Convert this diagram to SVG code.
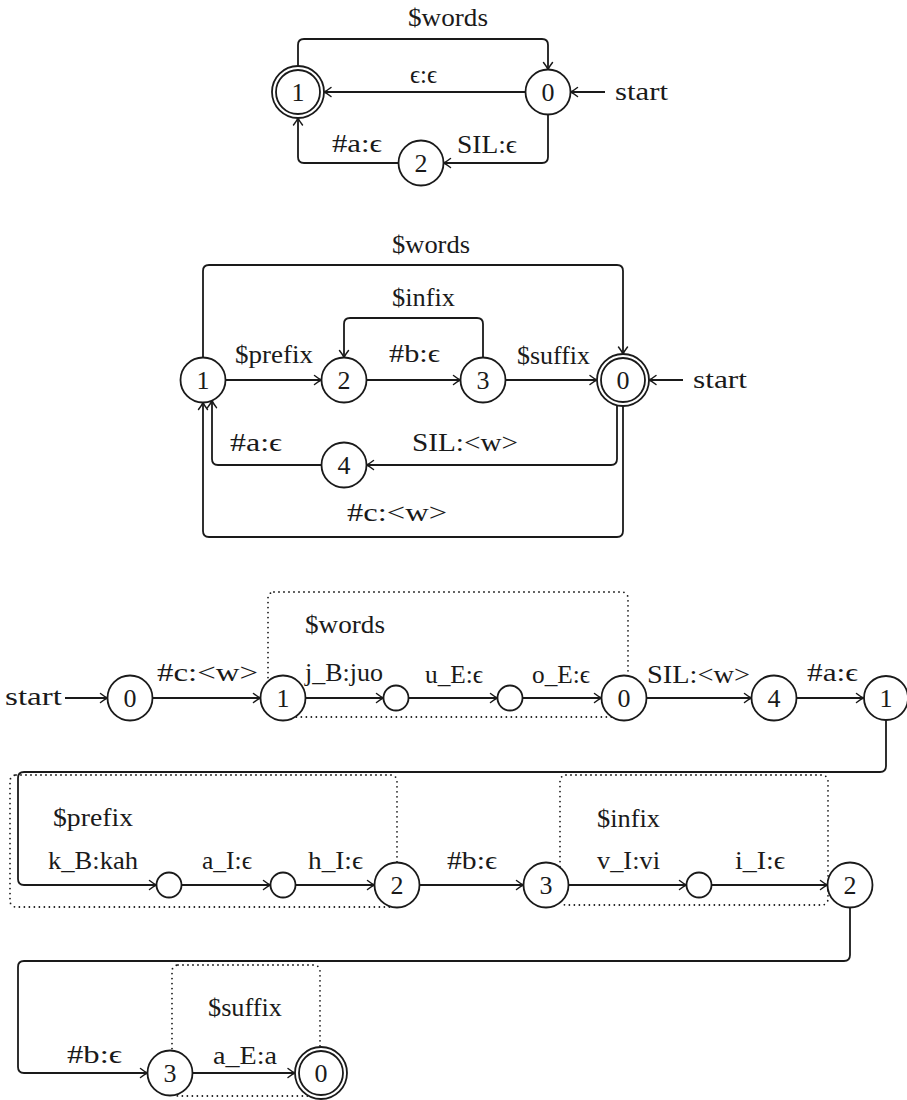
<svg xmlns="http://www.w3.org/2000/svg" width="907" height="1100" viewBox="0 0 907 1100">
<style>
text{font-family:"Liberation Serif","DejaVu Serif",serif;font-size:25px;fill:#1a1a1a}
.n{text-anchor:middle;font-size:26px}
.st{fill:#fff;stroke:#1a1a1a;stroke-width:1.8}
.e{fill:none;stroke:#1a1a1a;stroke-width:1.8;marker-end:url(#ah)}
.dot{fill:none;stroke:#1a1a1a;stroke-width:1.8;stroke-dasharray:0 5;stroke-linecap:round}
</style>
<defs>
<marker id="ah" markerUnits="userSpaceOnUse" markerWidth="14" markerHeight="14" refX="0" refY="0" viewBox="-10 -7 12 14" orient="auto" overflow="visible">
<path d="M-7,-4.5 Q-2.5,-1 0,0 Q-2.5,1 -7,4.5" fill="none" stroke="#1a1a1a" stroke-width="1.5" stroke-linecap="round"/>
</marker>
</defs>

<g id="clusters">
<rect class="dot" x="268" y="592" width="360" height="125" rx="6"/>
<rect class="dot" x="10" y="775" width="387" height="132" rx="6"/>
<rect class="dot" x="560" y="775" width="268" height="130" rx="6"/>
<rect class="dot" x="172" y="965" width="148" height="131" rx="6"/>
<text x="305" y="633" textLength="80" lengthAdjust="spacingAndGlyphs">$words</text>
<text x="53" y="826" textLength="80" lengthAdjust="spacingAndGlyphs">$prefix</text>
<text x="597" y="827" textLength="63" lengthAdjust="spacingAndGlyphs">$infix</text>
<text x="208" y="1016" textLength="74" lengthAdjust="spacingAndGlyphs">$suffix</text>
</g>

<g id="connectors">
<!-- top -->
<path class="e" d="M298,66 V45 Q298,39 304,39 H542 Q548,39 548,45 V69.5"/>
<path class="e" d="M525.5,92 H324"/>
<path class="e" d="M548,114.5 V157 Q548,163 542,163 H443.5"/>
<path class="e" d="M398.5,163 H304 Q298,163 298,157 V118"/>
<path class="e" d="M605,92 H570.5"/>
<!-- middle -->
<path class="e" d="M203,357.5 V271 Q203,265 209,265 H617 Q623,265 623,271 V354"/>
<path class="e" d="M225.5,380 H321.5"/>
<path class="e" d="M366.5,380 H460.5"/>
<path class="e" d="M505.5,380 H597"/>
<path class="e" d="M483,357.5 V324 Q483,318 477,318 H350 Q344,318 344,324 V357.5"/>
<path class="e" d="M683,380 H649"/>
<path class="e" d="M617,405.3 V459 Q617,465 611,465 H366.5"/>
<path class="e" d="M321.5,465 H218 Q212,465 212,459 V400.6"/>
<path class="e" d="M623,406 V531 Q623,537 617,537 H209 Q203,537 203,531 V402.5"/>
<!-- bottom row 1 -->
<path class="e" d="M65,698 H107.5"/>
<path class="e" d="M152.5,698 H260.5"/>
<path class="e" d="M305.5,698 H383.5"/>
<path class="e" d="M408.5,698 H497.5"/>
<path class="e" d="M522.5,698 H601.5"/>
<path class="e" d="M646.5,698 H751.5"/>
<path class="e" d="M796.5,698 H863.5"/>
<path class="e" d="M886,720.5 V766 Q886,772 880,772 H24 Q18,772 18,778 V879 Q18,885 24,885 H156.5"/>
<!-- row 2 -->
<path class="e" d="M181.5,885 H270.5"/>
<path class="e" d="M295.5,885 H374.5"/>
<path class="e" d="M419.5,885 H523.5"/>
<path class="e" d="M568.5,885 H686.5"/>
<path class="e" d="M711.5,885 H827.5"/>
<path class="e" d="M850,907.5 V955 Q850,961 844,961 H24 Q18,961 18,967 V1067 Q18,1073 24,1073 H147.5"/>
<!-- row 3 -->
<path class="e" d="M192.5,1073 H295"/>

<!-- labels -->
<text x="408" y="26" textLength="80" lengthAdjust="spacingAndGlyphs">$words</text>
<text x="410" y="83" textLength="27" lengthAdjust="spacingAndGlyphs">ϵ:ϵ</text>
<text x="615" y="100" textLength="53" lengthAdjust="spacingAndGlyphs">start</text>
<text x="457" y="153" textLength="60" lengthAdjust="spacingAndGlyphs">SIL:ϵ</text>
<text x="332" y="152" textLength="50" lengthAdjust="spacingAndGlyphs">#a:ϵ</text>

<text x="392" y="253" textLength="78" lengthAdjust="spacingAndGlyphs">$words</text>
<text x="392" y="306" textLength="63" lengthAdjust="spacingAndGlyphs">$infix</text>
<text x="235" y="363" textLength="78" lengthAdjust="spacingAndGlyphs">$prefix</text>
<text x="389" y="362" textLength="51" lengthAdjust="spacingAndGlyphs">#b:ϵ</text>
<text x="517" y="364" textLength="73" lengthAdjust="spacingAndGlyphs">$suffix</text>
<text x="693" y="388" textLength="54" lengthAdjust="spacingAndGlyphs">start</text>
<text x="230" y="451" textLength="52" lengthAdjust="spacingAndGlyphs">#a:ϵ</text>
<text x="412" y="451" textLength="106" lengthAdjust="spacingAndGlyphs">SIL:&lt;w&gt;</text>
<text x="347" y="521" textLength="100" lengthAdjust="spacingAndGlyphs">#c:&lt;w&gt;</text>

<text x="5" y="705" textLength="57" lengthAdjust="spacingAndGlyphs">start</text>
<text x="157" y="681" textLength="101" lengthAdjust="spacingAndGlyphs">#c:&lt;w&gt;</text>
<text x="305" y="681" textLength="78" lengthAdjust="spacingAndGlyphs">j_B:juo</text>
<text x="425" y="683" textLength="58" lengthAdjust="spacingAndGlyphs">u_E:ϵ</text>
<text x="532" y="683" textLength="58" lengthAdjust="spacingAndGlyphs">o_E:ϵ</text>
<text x="647" y="683" textLength="103" lengthAdjust="spacingAndGlyphs">SIL:&lt;w&gt;</text>
<text x="807" y="681" textLength="51" lengthAdjust="spacingAndGlyphs">#a:ϵ</text>

<text x="48" y="869" textLength="90" lengthAdjust="spacingAndGlyphs">k_B:kah</text>
<text x="202" y="869" textLength="50" lengthAdjust="spacingAndGlyphs">a_I:ϵ</text>
<text x="308" y="869" textLength="55" lengthAdjust="spacingAndGlyphs">h_I:ϵ</text>
<text x="447" y="869" textLength="50" lengthAdjust="spacingAndGlyphs">#b:ϵ</text>
<text x="597" y="869" textLength="63" lengthAdjust="spacingAndGlyphs">v_I:vi</text>
<text x="735" y="869" textLength="50" lengthAdjust="spacingAndGlyphs">i_I:ϵ</text>

<text x="67" y="1063" textLength="55" lengthAdjust="spacingAndGlyphs">#b:ϵ</text>
<text x="213" y="1064" textLength="64" lengthAdjust="spacingAndGlyphs">a_E:a</text>
</g>

<!-- top diagram nodes -->
<g id="t1"><circle class="st" cx="298" cy="92" r="26"/><circle class="st" cx="298" cy="92" r="22"/><text class="n" x="298" y="101">1</text></g>
<g id="t0"><circle class="st" cx="548" cy="92" r="22.5"/><text class="n" x="548" y="101">0</text></g>
<g id="t2"><circle class="st" cx="421" cy="163" r="22.5"/><text class="n" x="421" y="172">2</text></g>

<!-- middle diagram nodes -->
<g id="m1"><circle class="st" cx="203" cy="380" r="22.5"/><text class="n" x="203" y="389">1</text></g>
<g id="m2"><circle class="st" cx="344" cy="380" r="22.5"/><text class="n" x="344" y="389">2</text></g>
<g id="m3"><circle class="st" cx="483" cy="380" r="22.5"/><text class="n" x="483" y="389">3</text></g>
<g id="m0"><circle class="st" cx="623" cy="380" r="26"/><circle class="st" cx="623" cy="380" r="22"/><text class="n" x="623" y="389">0</text></g>
<g id="m4"><circle class="st" cx="344" cy="465" r="22.5"/><text class="n" x="344" y="474">4</text></g>

<!-- bottom diagram nodes -->
<g id="b0"><circle class="st" cx="130" cy="698" r="22.5"/><text class="n" x="130" y="707">0</text></g>
<g id="b1"><circle class="st" cx="283" cy="698" r="22.5"/><text class="n" x="283" y="707">1</text></g>
<g id="bs1"><circle class="st" cx="396" cy="698" r="12.5"/></g>
<g id="bs2"><circle class="st" cx="510" cy="698" r="12.5"/></g>
<g id="b0b"><circle class="st" cx="624" cy="698" r="22.5"/><text class="n" x="624" y="707">0</text></g>
<g id="b4"><circle class="st" cx="774" cy="698" r="22.5"/><text class="n" x="774" y="707">4</text></g>
<g id="b1b"><circle class="st" cx="886" cy="698" r="22"/><text class="n" x="886" y="707">1</text></g>

<g id="bs3"><circle class="st" cx="169" cy="885" r="12.5"/></g>
<g id="bs4"><circle class="st" cx="283" cy="885" r="12.5"/></g>
<g id="r2"><circle class="st" cx="397" cy="885" r="22.5"/><text class="n" x="397" y="894">2</text></g>
<g id="r3"><circle class="st" cx="546" cy="885" r="22.5"/><text class="n" x="546" y="894">3</text></g>
<g id="bs5"><circle class="st" cx="699" cy="885" r="12.5"/></g>
<g id="r2b"><circle class="st" cx="850" cy="885" r="22.5"/><text class="n" x="850" y="894">2</text></g>

<g id="s3"><circle class="st" cx="170" cy="1073" r="22.5"/><text class="n" x="170" y="1082">3</text></g>
<g id="s0"><circle class="st" cx="321" cy="1073" r="26"/><circle class="st" cx="321" cy="1073" r="22"/><text class="n" x="321" y="1082">0</text></g>
</svg>
